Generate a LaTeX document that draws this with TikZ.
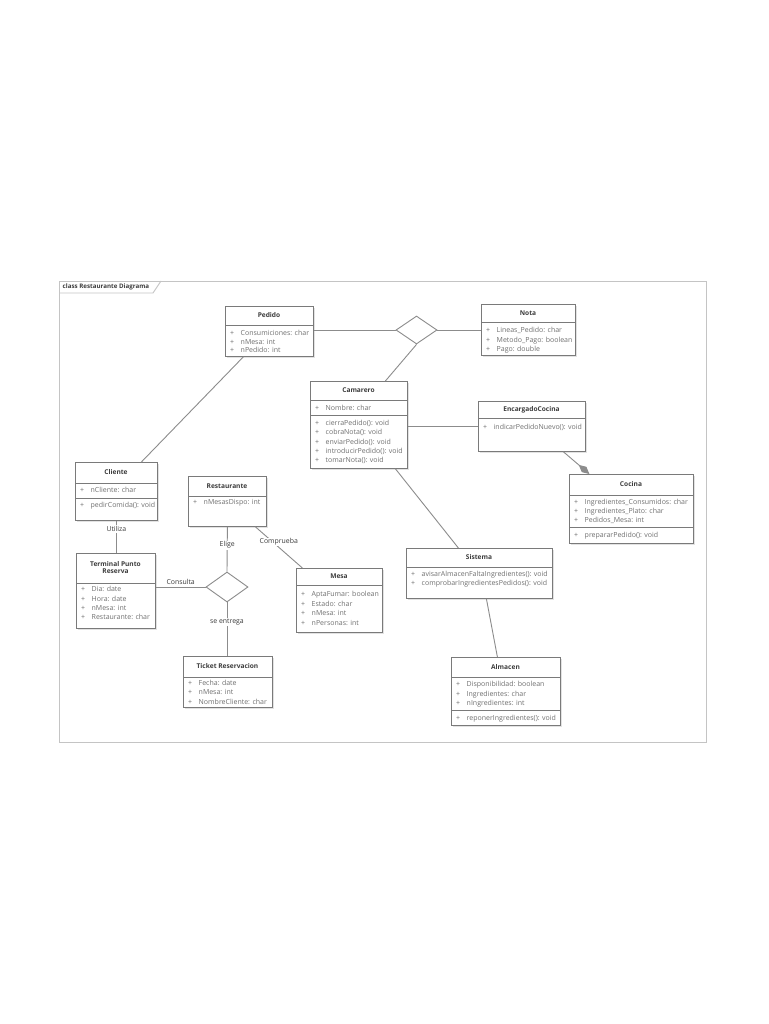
\documentclass[tikz,border=0pt]{standalone}
\usepackage{fontspec}
\setmainfont{Open Sans}
\usetikzlibrary{shapes.geometric,arrows.meta,shadows,calc}
\definecolor{linec}{HTML}{8C8C8C}
\definecolor{boxc}{HTML}{7A7A7A}
\definecolor{txtc}{HTML}{707070}
\definecolor{hdrc}{HTML}{3C3C3C}
\definecolor{framec}{HTML}{C4C4C4}
\newcommand{\pl}{\makebox[10.5pt][l]{+}}
\tikzset{
  cls/.style={draw=boxc, line width=0.8pt, fill=white, anchor=north west, inner sep=0pt,
    drop shadow={shadow xshift=1.8pt, shadow yshift=-1.8pt, fill=black!22}},
  sepline/.style={draw=boxc, line width=0.7pt},
  hdr/.style={font=\fontsize{6.6}{8}\selectfont\bfseries, text=hdrc, inner sep=0pt, align=center},
  attr/.style={font=\fontsize{7}{8}\selectfont, text=txtc, inner sep=0pt, anchor=base west},
  conn/.style={draw=linec, line width=0.9pt},
  lbl/.style={font=\fontsize{6.9}{8}\selectfont, text=hdrc, fill=white, inner sep=1pt},
  dia/.style={diamond, draw=linec, line width=0.9pt, fill=white, inner sep=0pt},
}
% #1 name, #2 x1, #3 y1, #4 x2, #5 y2, #6 header divider y, #7 title
\newcommand{\umlclass}[7]{%
  \node[cls, minimum width={(#4-#2)*1pt}, minimum height={(#5-#3)*1pt}] (#1) at (#2,#3) {};
  \draw[sepline] (#2,#6) -- (#4,#6);
  \node[hdr] (#1-title) at ({(#2+#4)/2},{(#3+#6)/2}) {#7};
}
% #1 name prefix, #2 x, #3 first centre y, #4 spacing, #5 list
\newcommand{\umlrows}[5]{%
  \foreach \t [count=\i] in {#5} {
    \node[attr] (#1-\i) at (#2+5,{#3+2.4+(\i-1)*#4}) {\pl\t};
  }
}
\begin{document}
\begin{tikzpicture}[x=1pt,y=-1pt]
\useasboundingbox[fill=white] (0,0) rectangle (768,1024);
% frame
\node[draw=framec, line width=0.9pt, minimum width=647pt, minimum height=461pt, anchor=north west, inner sep=0pt] (frame) at (59,281) {};
\node[font=\fontsize{6.2}{7}\selectfont\bfseries, text=hdrc, anchor=west, inner sep=0pt] (frametitle) at (62.5,287) {class Restaurante Diagrama};
\draw[draw=framec, line width=0.9pt] (frame.north west |- 0,293) -- (153,293) -- (161,281);

% classes
\umlclass{pedido}{225}{306}{313}{356}{325}{Pedido}
\umlrows{pedido-a}{225}{333.5}{8.3}{Consumiciones: char, nMesa: int, nPedido: int}

\umlclass{nota}{481}{304}{575}{355}{322}{Nota}
\umlrows{nota-a}{481}{330.5}{9.2}{Lineas\_Pedido: char, Metodo\_Pago: boolean, Pago: double}

\umlclass{camarero}{310}{381}{407}{468}{400}{Camarero}
\draw[sepline] (310,415) -- (407,415);
\umlrows{camarero-a}{310}{407.8}{9.3}{Nombre: char}
\umlrows{camarero-m}{310}{423}{9.3}{cierraPedido(): void, cobraNota(): void, enviarPedido(): void, introducirPedido(): void, tomarNota(): void}

\umlclass{enc}{478}{401}{585}{451}{418}{EncargadoCocina}
\umlrows{enc-m}{478}{427}{9.3}{indicarPedidoNuevo(): void}

\umlclass{cocina}{569}{474}{693}{543}{495}{Cocina}
\draw[sepline] (569,527) -- (693,527);
\umlrows{cocina-a}{569}{502}{9}{Ingredientes\_Consumidos: char, Ingredientes\_Plato: char, Pedidos\_Mesa: int}
\umlrows{cocina-m}{569}{535}{9}{prepararPedido(): void}

\umlclass{sistema}{406}{548}{552}{598}{567}{Sistema}
\umlrows{sistema-m}{406}{574}{9.3}{avisarAlmacenFaltaIngredientes(): void, comprobarIngredientesPedidos(): void}

\umlclass{almacen}{451}{657}{560}{725}{677}{Almacen}
\draw[sepline] (451,710) -- (560,710);
\umlrows{almacen-a}{451}{684.5}{9.2}{Disponibilidad: boolean, Ingredientes: char, nIngredientes: int}
\umlrows{almacen-m}{451}{718}{9}{reponerIngredientes(): void}

\umlclass{cliente}{75}{462}{157}{520}{483}{Cliente}
\draw[sepline] (75,498) -- (157,498);
\umlrows{cliente-a}{75}{490}{9}{nCliente: char}
\umlrows{cliente-m}{75}{505.5}{9}{pedirComida(): void}

\umlclass{restaurante}{188}{476}{266}{526}{496}{Restaurante}
\umlrows{restaurante-a}{188}{502.5}{9}{nMesasDispo: int}

\umlclass{terminal}{76}{553}{155}{628}{583}{Terminal Punto\\[-1pt]Reserva}
\umlrows{terminal-a}{76}{589.5}{9.1}{Dia: date, Hora: date, nMesa: int, Restaurante: char}

\umlclass{mesa}{296}{568}{382}{632}{585}{Mesa}
\umlrows{mesa-a}{296}{594.5}{9.4}{AptaFumar: boolean, Estado: char, nMesa: int, nPersonas: int}

\umlclass{ticket}{183}{656}{272}{707}{677}{Ticket Reservacion}
\umlrows{ticket-a}{183}{683}{9.3}{Fecha: date, nMesa: int, NombreCliente: char}

% diamonds
\node[dia, minimum width=41pt, minimum height=28pt] (d1) at (416.5,330) {};
\node[dia, minimum width=42pt, minimum height=30pt] (d2) at (227,587) {};

% connectors
\draw[conn] (pedido.east |- d1.west) -- (d1.west);
\draw[conn] (d1.east) -- (nota.west |- d1.east);
\draw[conn] (d1.south) -- ($(camarero.north)+(26.5,0)$);
\draw[conn] ($(pedido.south)+(-26,0)$) -- ($(cliente.north)+(25,0)$);
\draw[conn] (camarero.east |- enc.west) -- (enc.west);
\draw[conn, -{Diamond[length=14pt,width=7pt,fill=linec]}] ($(enc.south)+(31.5,0)$) -- ($(cocina.north)+(-42,0)$);
\draw[conn] ($(camarero.south)+(36.5,0)$) -- ($(sistema.north)+(-21,0)$);
\draw[conn] ($(sistema.south)+(7,0)$) -- ($(almacen.north)+(-8.5,0)$);
\draw[conn] (cliente.south) -- (cliente.south |- terminal.north) node[lbl, pos=0.25] (lutiliza) {Utiliza};
\draw[conn] (restaurante.south) -- (d2.north) node[lbl, pos=0.41] (lelige) {Elige};
\draw[conn] (terminal.east |- d2.west) -- (d2.west) node[lbl, midway, above=1pt, fill=none] (lconsulta) {Consulta};
\draw[conn] (d2.south) -- (d2.south |- ticket.north) node[lbl, pos=0.37] (lentrega) {se entrega};
\draw[conn] ($(restaurante.south)+(28,0)$) -- ($(mesa.north)+(-37,0)$) node[lbl, pos=0.37, xshift=6pt] (lcomprueba) {Comprueba};
\end{tikzpicture}
\end{document}
